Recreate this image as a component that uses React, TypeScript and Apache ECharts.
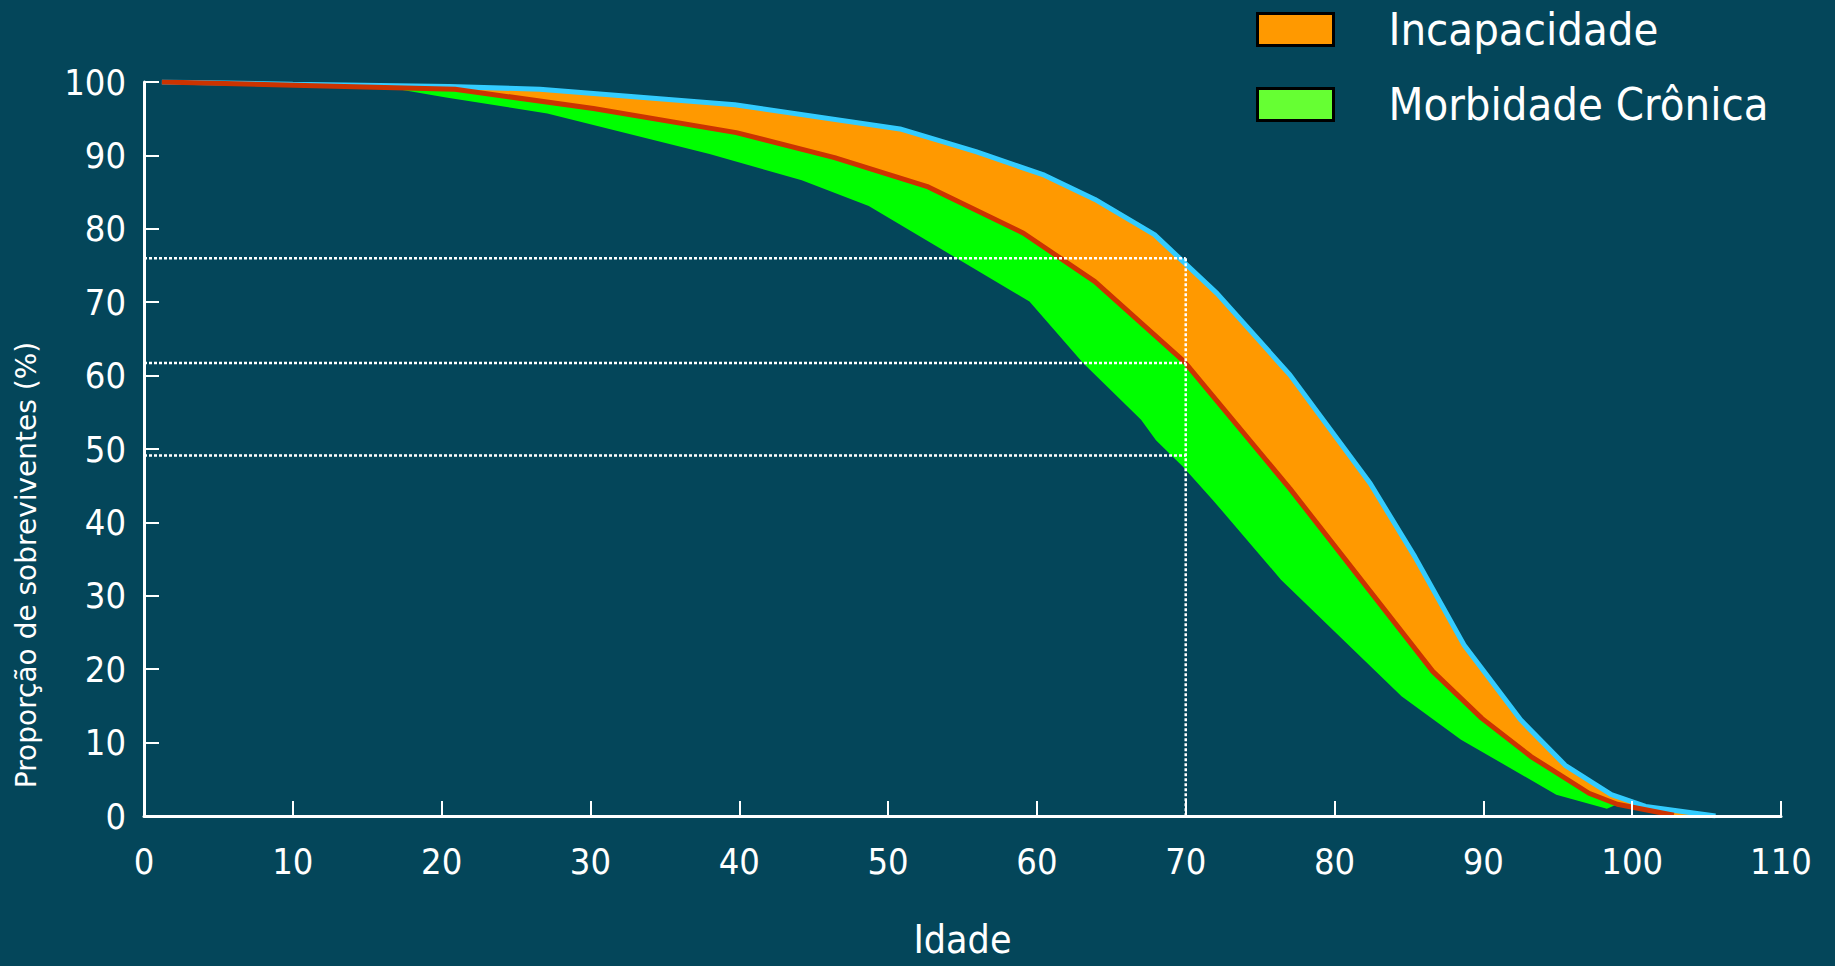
import React, { useEffect, useRef } from "react";
import * as echarts from "echarts";

// Curva de mortalidade (linha azul, limite superior da faixa laranja)
const mortalityAges = [1.2, 10, 20.5, 26.6, 39.7, 50.8, 55.9, 60.5, 63.9, 67.9, 72.1, 77.0, 82.4, 85.4, 88.7, 92.5, 95.5, 98.6, 100.9, 105.6];
const mortalityValues = [100, 99.7, 99.4, 99.0, 96.9, 93.6, 90.5, 87.3, 84.0, 79.2, 71.2, 60.1, 45.3, 35.3, 23.3, 13.1, 6.9, 2.9, 1.3, 0];

// Curva de incapacidade (linha vermelha)
const disabilityAges = [1.2, 20.9, 30.2, 39.8, 46.4, 52.7, 59.1, 63.9, 69.9, 77.0, 86.6, 89.9, 93.2, 97.1, 99.0, 102.8];
const disabilityValues = [100, 99.0, 96.4, 93.1, 89.7, 85.7, 79.4, 72.8, 61.9, 44.6, 19.7, 13.3, 8.1, 3.1, 1.6, 0.1];

// Curva de morbidade crônica (limite inferior da faixa verde)
const morbidityAges = [1.2, 16.5, 20.3, 27.1, 38.0, 44.2, 48.7, 59.5, 63.1, 67.0, 68.0, 69.8, 71.8, 76.4, 84.5, 88.5, 94.9, 98.3];
const morbidityValues = [100, 99.2, 97.9, 95.7, 90.2, 86.6, 83.1, 70.1, 61.7, 54.0, 51.2, 47.6, 43.1, 32.2, 16.3, 10.4, 2.9, 1.0];

// Linhas de referência pontilhadas
const refAge = 70;
const refLevels = [76, 61.7, 49.1];

const xTicks = { min: 0, max: 110, interval: 10 };
const yTicks = { min: 0, max: 100, interval: 10 };

const BG = "#04465A";
const NARROW = '"Liberation Sans Narrow", "DejaVu Sans Condensed", "Liberation Sans", sans-serif';

const toPairs = (xs: number[], ys: number[]) => xs.map((x, i) => [x, ys[i]]);

export default function App() {
  const ref = useRef<HTMLDivElement>(null);

  useEffect(() => {
    if (!ref.current) return;
    const chart = echarts.init(ref.current, null, { renderer: "svg" });

    const mortality = toPairs(mortalityAges, mortalityValues);
    const disability = toPairs(disabilityAges, disabilityValues);
    const morbidity = toPairs(morbidityAges, morbidityValues);
    const lastMorb = morbidityAges[morbidityAges.length - 1];
    // background-coloured mask under the morbidity curve (covers area edges)
    const maskData = [
      [xTicks.min, morbidityValues[0]],
      ...morbidity,
      ...disability.filter((p) => p[0] > lastMorb),
    ];

    const dotted = { color: "#ffffff", width: 2.5, type: [3, 2] as any };

    const option: any = {
      animation: false,
      backgroundColor: BG,
      grid: { left: 144, right: 54, top: 82, bottom: 150, containLabel: false, outerBoundsMode: "none" },
      legend: {
        left: 1251,
        top: 2,
        orient: "vertical",
        icon: "rect",
        itemWidth: 76,
        itemHeight: 32,
        itemGap: 30,
        selectedMode: false,
        textStyle: { color: "#ffffff", fontSize: 45, fontFamily: NARROW, padding: [0, 0, 0, 50] },
        data: [
          { name: "Incapacidade", itemStyle: { color: "#FF9900", borderColor: "#000000", borderWidth: 3, opacity: 1 } },
          { name: "Morbidade Crônica", itemStyle: { color: "#66FF33", borderColor: "#000000", borderWidth: 3, opacity: 1 } },
        ],
      },
      xAxis: {
        type: "value",
        ...xTicks,
        z: 10,
        name: "Idade",
        nameLocation: "middle",
        nameGap: 104,
        nameTextStyle: { color: "#ffffff", fontFamily: NARROW, fontSize: 39 },
        axisLine: { show: true, onZero: false, lineStyle: { color: "#ffffff", width: 3 } },
        axisTick: { show: true, inside: true, length: 15, lineStyle: { color: "#ffffff", width: 2 } },
        axisLabel: { color: "#ffffff", fontFamily: NARROW, fontSize: 36, margin: 27 },
        splitLine: { show: false },
      },
      yAxis: {
        type: "value",
        ...yTicks,
        z: 10,
        name: "Proporção de sobreviventes (%)",
        nameLocation: "middle",
        nameGap: 104,
        nameTextStyle: { color: "#ffffff", fontFamily: '"DejaVu Sans", sans-serif', fontSize: 28, padding: [0, 232, 0, 0] },
        axisLine: { show: true, onZero: false, lineStyle: { color: "#ffffff", width: 3 } },
        axisTick: { show: true, inside: true, length: 15, lineStyle: { color: "#ffffff", width: 2 } },
        axisLabel: { color: "#ffffff", fontFamily: NARROW, fontSize: 36, margin: 18 },
        splitLine: { show: false },
      },
      series: [
        {
          name: "Incapacidade",
          type: "line",
          data: mortality,
          z: 1,
          showSymbol: false,
          silent: true,
          itemStyle: { color: "#FF9900" },
          lineStyle: { width: 0 },
          areaStyle: { color: "#FF9900", opacity: 1 },
        },
        {
          name: "Morbidade Crônica",
          type: "line",
          data: disability,
          z: 2,
          showSymbol: false,
          silent: true,
          itemStyle: { color: "#00FF00" },
          lineStyle: { width: 0 },
          areaStyle: { color: "#00FF00", opacity: 1 },
        },
        {
          name: "Sem morbidade",
          type: "line",
          data: maskData,
          z: 3,
          showSymbol: false,
          silent: true,
          itemStyle: { color: BG },
          lineStyle: { width: 0 },
          areaStyle: { color: BG, opacity: 1 },
        },
        {
          name: "Mortalidade",
          type: "line",
          data: mortality,
          z: 4,
          showSymbol: false,
          silent: true,
          lineStyle: { color: "#33CCFF", width: 5 },
        },
        {
          name: "Curva de incapacidade",
          type: "line",
          data: disability,
          z: 5,
          showSymbol: false,
          silent: true,
          lineStyle: { color: "#CC3300", width: 5 },
        },
        ...refLevels.map((lv, i) => ({
          name: "ref" + i,
          type: "line",
          data: [
            [xTicks.min, lv],
            [refAge, lv],
          ],
          z: 6,
          showSymbol: false,
          silent: true,
          lineStyle: dotted,
        })),
        {
          name: "refV",
          type: "line",
          data: [
            [refAge, refLevels[0]],
            [refAge, yTicks.min],
          ],
          z: 6,
          showSymbol: false,
          silent: true,
          lineStyle: dotted,
        },
      ],
    };

    chart.setOption(option);
    return () => chart.dispose();
  }, []);

  return <div ref={ref} style={{ position: "fixed", left: 0, top: 0, width: 1835, height: 966 }} />;
}
